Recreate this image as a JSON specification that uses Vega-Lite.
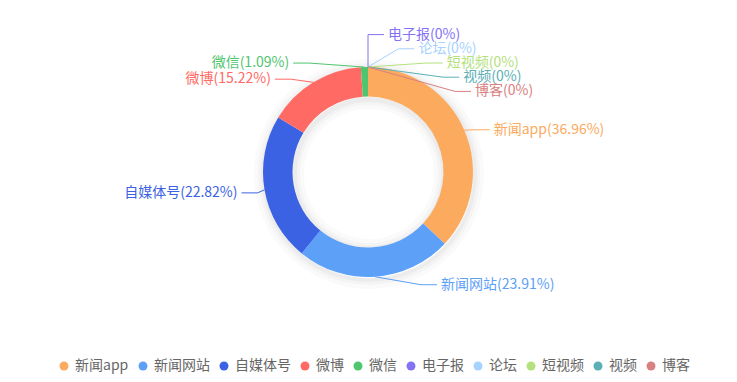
{
  "$schema": "https://vega.github.io/schema/vega-lite/v6.json",
  "width": 737,
  "height": 382,
  "autosize": {"type": "fit", "contains": "padding"},
  "padding": 0,
  "background": "#ffffff",
  "config": {"view": {"stroke": null}, "font": "Noto Sans CJK SC"},
  "data": {
    "values": [
      {"name": "新闻app", "pct": 36.96},
      {"name": "新闻网站", "pct": 23.91},
      {"name": "自媒体号", "pct": 22.82},
      {"name": "微博", "pct": 15.22},
      {"name": "微信", "pct": 1.09},
      {"name": "电子报", "pct": 0},
      {"name": "论坛", "pct": 0},
      {"name": "短视频", "pct": 0},
      {"name": "视频", "pct": 0},
      {"name": "博客", "pct": 0}
    ]
  },
  "transform": [
    {"window": [{"op": "row_number", "as": "idx"}]},
    {"joinaggregate": [{"op": "sum", "field": "pct", "as": "total"}]},
    {"window": [{"op": "sum", "field": "pct", "as": "cum"}], "sort": [{"field": "idx"}], "frame": [null, 0]},
    {"calculate": "(datum.cum - datum.pct) / datum.total * 2 * PI", "as": "t0"},
    {"calculate": "datum.cum / datum.total * 2 * PI", "as": "t1"},
    {"calculate": "(datum.t0 + datum.t1) / 2", "as": "mid"},
    {"calculate": "sin(datum.mid) < -0.001 ? -1 : 1", "as": "side"},
    {"calculate": "-111 * cos(datum.mid)", "as": "iy"},
    {"calculate": "round(datum.iy * 100) / 100", "as": "iyr"},
    {"window": [{"op": "row_number", "as": "k"}, {"op": "count", "as": "n"}], "groupby": ["side", "iyr"], "sort": [{"field": "idx"}], "frame": [null, null]},
    {"calculate": "datum.iy + (datum.k - (datum.n + 1) / 2) * 14.2 + 2", "as": "ly"},
    {"calculate": "datum.side * 112 * sqrt(max(1 - (datum.ly * datum.ly) / (128 * 128), 0))", "as": "p1x"},
    {"calculate": "105 * sin(datum.mid)", "as": "p0x"},
    {"calculate": "-105 * cos(datum.mid)", "as": "p0y"},
    {"calculate": "datum.p1x + datum.side * 16", "as": "p2x"},
    {"calculate": "datum.name + '(' + datum.pct + '%)'", "as": "lbl"}
  ],
  "layer": [
    {
      "transform": [{"filter": "datum.idx == 1"}],
      "mark": {"type": "arc", "innerRadius": 104, "outerRadius": 115, "fill": "#000000", "opacity": 0.018},
      "encoding": {
        "x": {"datum": 1, "type": "quantitative", "scale": {"type": "linear", "domain": [-368, 369], "nice": false, "zero": false}, "axis": null},
        "y": {"datum": 2, "type": "quantitative", "scale": {"type": "linear", "domain": [-172, 210], "nice": false, "zero": false, "reverse": true}, "axis": null}
      }
    },
    {
      "transform": [{"filter": "datum.idx == 1"}],
      "mark": {"type": "arc", "innerRadius": 104, "outerRadius": 111, "fill": "#000000", "opacity": 0.022},
      "encoding": {
        "x": {"datum": 1, "type": "quantitative", "axis": null},
        "y": {"datum": 2, "type": "quantitative", "axis": null}
      }
    },
    {
      "transform": [{"filter": "datum.idx == 1"}],
      "mark": {"type": "arc", "innerRadius": 104, "outerRadius": 108, "fill": "#000000", "opacity": 0.03},
      "encoding": {
        "x": {"datum": 1, "type": "quantitative", "axis": null},
        "y": {"datum": 2, "type": "quantitative", "axis": null}
      }
    },
    {
      "transform": [{"filter": "datum.idx == 1"}],
      "mark": {"type": "arc", "innerRadius": 65, "outerRadius": 77, "fill": "#000000", "opacity": 0.018},
      "encoding": {
        "x": {"datum": 1, "type": "quantitative", "axis": null},
        "y": {"datum": 2, "type": "quantitative", "axis": null}
      }
    },
    {
      "transform": [{"filter": "datum.idx == 1"}],
      "mark": {"type": "arc", "innerRadius": 69, "outerRadius": 77, "fill": "#000000", "opacity": 0.022},
      "encoding": {
        "x": {"datum": 1, "type": "quantitative", "axis": null},
        "y": {"datum": 2, "type": "quantitative", "axis": null}
      }
    },
    {
      "transform": [{"filter": "datum.idx == 1"}],
      "mark": {"type": "arc", "innerRadius": 72, "outerRadius": 77, "fill": "#000000", "opacity": 0.03},
      "encoding": {
        "x": {"datum": 1, "type": "quantitative", "axis": null},
        "y": {"datum": 2, "type": "quantitative", "axis": null}
      }
    },
    {
      "mark": {"type": "arc", "innerRadius": 75.5, "outerRadius": 105},
      "encoding": {
        "x": {"datum": 0, "type": "quantitative", "axis": null},
        "y": {"datum": 0, "type": "quantitative", "axis": null},
        "theta": {"field": "t0", "type": "quantitative", "scale": null},
        "theta2": {"field": "t1"},
        "color": {
          "field": "name",
          "type": "nominal",
          "scale": {
            "domain": ["新闻app", "新闻网站", "自媒体号", "微博", "微信", "电子报", "论坛", "短视频", "视频", "博客"],
            "range": ["#fbaa5e", "#5ca0f8", "#3b62e3", "#ff6a64", "#4fc56f", "#8472f5", "#a6d2ff", "#b4e17d", "#5ab0b6", "#d98080"]
          },
          "legend": {
            "orient": "none",
            "legendX": 57,
            "legendY": 359,
            "direction": "horizontal",
            "columns": 10,
            "title": null,
            "padding": 0,
            "symbolType": "circle",
            "symbolSize": 80,
            "symbolStrokeWidth": 0,
            "labelFontSize": 14,
            "labelColor": "#666666",
            "labelFont": "Noto Sans CJK SC",
            "labelOffset": 4,
            "columnPadding": 7
          }
        }
      }
    },
    {
      "transform": [
        {"fold": ["p0x", "p1x", "p2x"], "as": ["pt", "lx"]},
        {"calculate": "datum.pt == 'p0x' ? datum.p0y : datum.ly", "as": "lyy"}
      ],
      "mark": {"type": "line", "strokeWidth": 1, "interpolate": "linear"},
      "encoding": {
        "x": {"field": "lx", "type": "quantitative", "axis": null},
        "y": {"field": "lyy", "type": "quantitative", "axis": null},
        "color": {"field": "name", "type": "nominal", "legend": null},
        "detail": {"field": "name"},
        "order": {"field": "pt", "type": "ordinal"}
      }
    },
    {
      "transform": [{"filter": "datum.side == 1"}],
      "mark": {"type": "text", "align": "left", "baseline": "middle", "dx": 4, "fontSize": 14, "font": "Noto Sans CJK SC"},
      "encoding": {
        "x": {"field": "p2x", "type": "quantitative", "axis": null},
        "y": {"field": "ly", "type": "quantitative", "axis": null},
        "text": {"field": "lbl"},
        "color": {"field": "name", "type": "nominal", "legend": null}
      }
    },
    {
      "transform": [{"filter": "datum.side == -1"}],
      "mark": {"type": "text", "align": "right", "baseline": "middle", "dx": -4, "fontSize": 14, "font": "Noto Sans CJK SC"},
      "encoding": {
        "x": {"field": "p2x", "type": "quantitative", "axis": null},
        "y": {"field": "ly", "type": "quantitative", "axis": null},
        "text": {"field": "lbl"},
        "color": {"field": "name", "type": "nominal", "legend": null}
      }
    }
  ]
}
